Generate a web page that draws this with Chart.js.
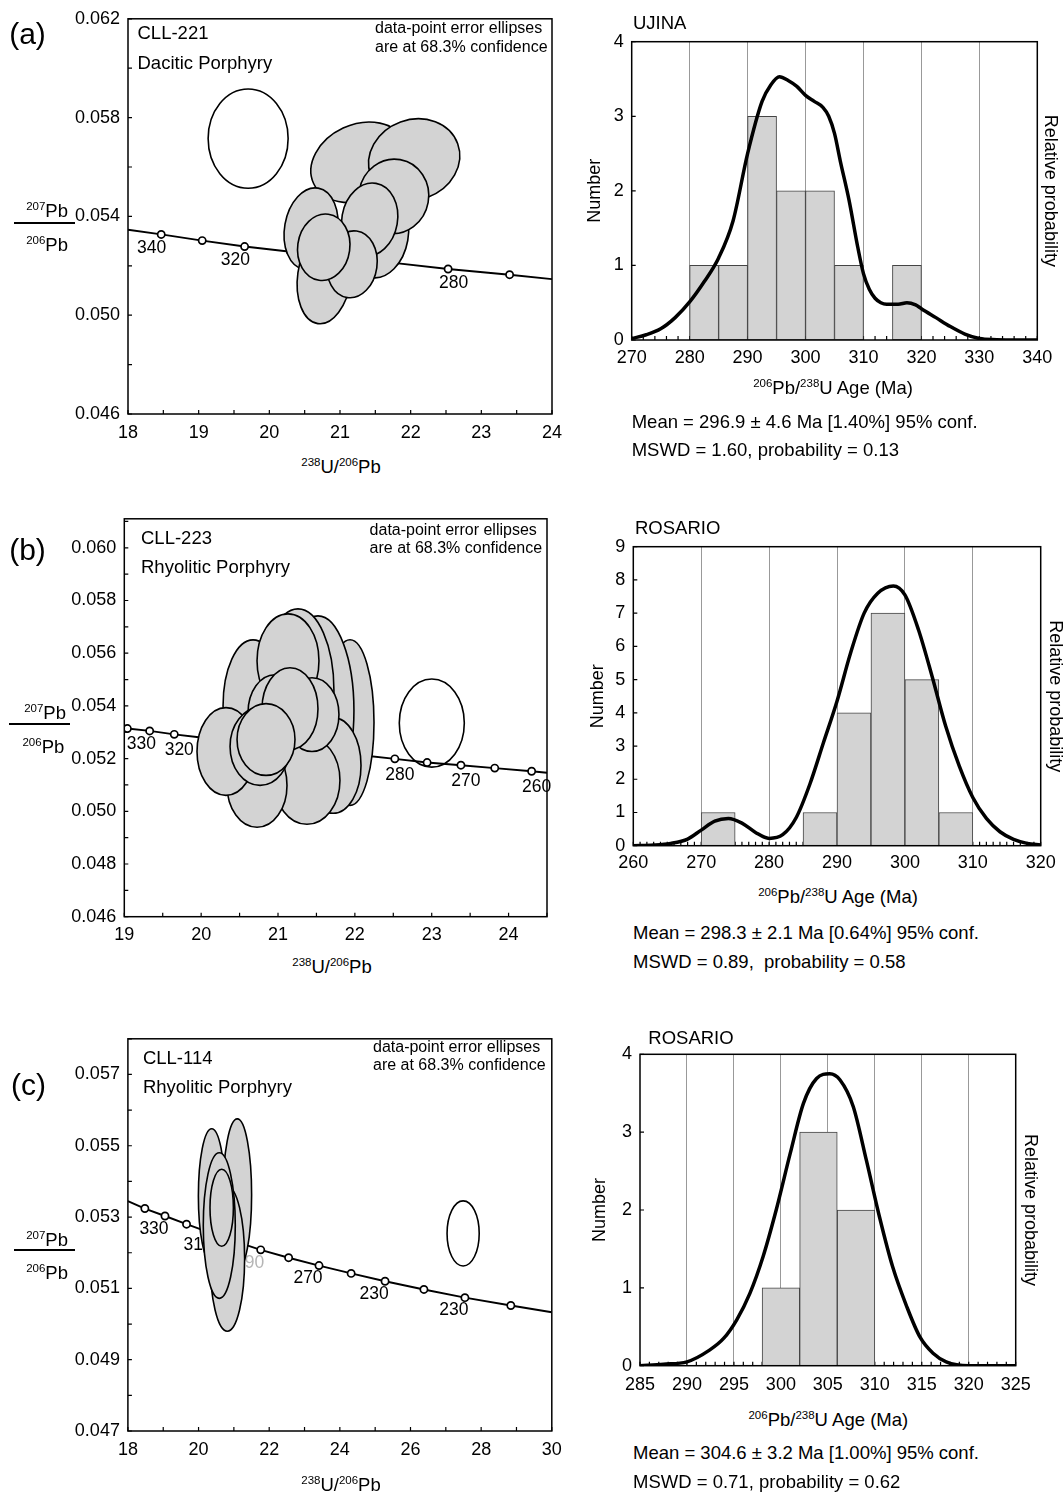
<!DOCTYPE html>
<html>
<head>
<meta charset="utf-8">
<script src="https://cdn.jsdelivr.net/npm/chart.js@4.4.0/dist/chart.umd.min.js"></script>
<style>
html, body { margin: 0; padding: 0; background: #fff; }
body { width: 1064px; height: 1493px; position: relative; overflow: hidden; font-family: "Liberation Sans", Arial, sans-serif; color: #000; }
canvas { position: absolute; }
.t { position: absolute; white-space: nowrap; line-height: 1; font-size: 18.5px; }
.c { transform: translate(-50%, -50%); }
.l { transform: translate(0, -50%); }
.r { transform: translate(-100%, -50%); }
.s { font-size: 11.5px; vertical-align: 7px; }
.n { font-size: 16px; }
.p { font-size: 30px; }
.bar { position: absolute; height: 0; border-top: 2px solid #000; }
</style>
</head>
<body>
<canvas id="concA" width="580" height="450" style="left:0;top:0"></canvas>
<canvas id="histA" width="484" height="380" style="left:580px;top:0"></canvas>
<canvas id="concB" width="580" height="450" style="left:0;top:500px"></canvas>
<canvas id="histB" width="490" height="385" style="left:580px;top:500px"></canvas>
<canvas id="concC" width="580" height="460" style="left:0;top:1020px"></canvas>
<canvas id="histC" width="484" height="380" style="left:580px;top:1020px"></canvas>

<!-- panel (a) -->
<div class="t c p" style="left:27.5px;top:34px">(a)</div>
<div class="t l" style="left:137.5px;top:33px">CLL-221</div>
<div class="t l" style="left:137.5px;top:63px">Dacitic Porphyry</div>
<div class="t l n" style="left:375px;top:28.3px">data-point error ellipses</div>
<div class="t l n" style="left:375px;top:46.7px">are at 68.3% confidence</div>
<div class="t r" style="left:68px;top:210.7px"><span class="s">207</span>Pb</div>
<div class="bar" style="left:14px;top:221.7px;width:61px"></div>
<div class="t r" style="left:68px;top:245px"><span class="s">206</span>Pb</div>
<div class="t c" style="left:341px;top:466.7px"><span class="s">238</span>U/<span class="s">206</span>Pb</div>
<div class="t l" style="left:633px;top:23px">UJINA</div>
<div class="t c" style="left:833px;top:388px"><span class="s">206</span>Pb/<span class="s">238</span>U Age (Ma)</div>
<div class="t l" style="left:631.7px;top:421.7px">Mean = 296.9 ± 4.6 Ma [1.40%] 95% conf.</div>
<div class="t l" style="left:631.7px;top:450px">MSWD = 1.60, probability = 0.13</div>

<!-- panel (b) -->
<div class="t c p" style="left:27.5px;top:550px">(b)</div>
<div class="t l" style="left:141px;top:538.3px">CLL-223</div>
<div class="t l" style="left:141px;top:566.7px">Rhyolitic Porphyry</div>
<div class="t l n" style="left:369.6px;top:530px">data-point error ellipses</div>
<div class="t l n" style="left:369.6px;top:548.3px">are at 68.3% confidence</div>
<div class="t r" style="left:66px;top:713.3px"><span class="s">207</span>Pb</div>
<div class="bar" style="left:9px;top:723px;width:61px"></div>
<div class="t r" style="left:64.3px;top:746.7px"><span class="s">206</span>Pb</div>
<div class="t c" style="left:332px;top:966.7px"><span class="s">238</span>U/<span class="s">206</span>Pb</div>
<div class="t l" style="left:635px;top:528.3px">ROSARIO</div>
<div class="t c" style="left:838px;top:896.7px"><span class="s">206</span>Pb/<span class="s">238</span>U Age (Ma)</div>
<div class="t l" style="left:633px;top:933.3px">Mean = 298.3 ± 2.1 Ma [0.64%] 95% conf.</div>
<div class="t l" style="left:633px;top:961.7px">MSWD = 0.89,&nbsp; probability = 0.58</div>

<!-- panel (c) -->
<div class="t c p" style="left:28.5px;top:1085px">(c)</div>
<div class="t l" style="left:142.9px;top:1058.3px">CLL-114</div>
<div class="t l" style="left:142.9px;top:1086.7px">Rhyolitic Porphyry</div>
<div class="t l n" style="left:373px;top:1047.3px">data-point error ellipses</div>
<div class="t l n" style="left:373px;top:1065px">are at 68.3% confidence</div>
<div class="t r" style="left:68px;top:1240px"><span class="s">207</span>Pb</div>
<div class="bar" style="left:14.3px;top:1249px;width:61px"></div>
<div class="t r" style="left:68px;top:1273.3px"><span class="s">206</span>Pb</div>
<div class="t c" style="left:341px;top:1485px"><span class="s">238</span>U/<span class="s">206</span>Pb</div>
<div class="t l" style="left:648.3px;top:1038.3px">ROSARIO</div>
<div class="t c" style="left:828.3px;top:1420px"><span class="s">206</span>Pb/<span class="s">238</span>U Age (Ma)</div>
<div class="t l" style="left:633px;top:1453.3px">Mean = 304.6 ± 3.2 Ma [1.00%] 95% conf.</div>
<div class="t l" style="left:633px;top:1481.7px">MSWD = 0.71, probability = 0.62</div>

<script>
// (a) CLL-221 concordia points (238U/206Pb, 207Pb/206Pb) and age marks (Ma)
var concA_x = [18.0, 18.47, 19.05, 19.65, 20.30, 20.99, 21.73, 22.53, 23.40, 24.0];
var concA_y = [0.05346, 0.05327, 0.05302, 0.05278, 0.05257, 0.05237, 0.05213, 0.05187, 0.05164, 0.05146];
var concA_age = [null, 340, 330, 320, 310, 300, 290, 280, 270, null];
var concA_lbl = ['', '340', '', '320', '', '', '', '280', '', ''];
// (a) error ellipses: centre, half axes, tilt (deg), filled
var ellA_x = [19.70, 21.27, 22.05, 21.55, 21.76, 20.59, 21.42, 20.78, 21.17, 20.77];
var ellA_y = [0.05715, 0.05619, 0.05630, 0.05323, 0.05481, 0.05350, 0.05387, 0.05157, 0.05206, 0.05275];
var ellA_sx = [0.566, 0.71, 0.655, 0.415, 0.495, 0.374, 0.394, 0.379, 0.354, 0.369];
var ellA_sy = [0.00201, 0.00153, 0.00162, 0.00173, 0.00151, 0.00167, 0.00149, 0.00193, 0.00136, 0.00135];
var ellA_rot = [0, -25, -20, 10, 10, 10, 10, 8, 8, 8];
var ellA_fill = [0, 1, 1, 1, 1, 1, 1, 1, 1, 1];

// (a) UJINA histogram
var histA_bin = [282.5, 287.5, 292.5, 297.5, 302.5, 307.5, 312.5, 317.5];
var histA_n = [1, 1, 3, 2, 2, 1, 0, 1];
var probA_x = [270, 272.5, 275, 277.5, 280, 282.5, 285, 287.5, 290, 292.5, 294, 295.5, 297, 298.5, 300, 301.5, 303, 304, 305, 306, 307.5, 309, 310, 311, 312, 313, 314, 316, 317.5, 319, 320, 322.5, 325, 327.5, 330, 333, 336, 340];
var probA_y = [0.02, 0.07, 0.15, 0.3, 0.51, 0.78, 1.1, 1.6, 2.5, 3.2, 3.42, 3.53, 3.48, 3.4, 3.28, 3.2, 3.12, 3.0, 2.77, 2.4, 1.88, 1.25, 0.89, 0.68, 0.56, 0.5, 0.48, 0.48, 0.5, 0.47, 0.42, 0.3, 0.18, 0.08, 0.02, 0.005, 0, 0];

// (b) CLL-223 concordia
var concB_x = [19.0, 19.04, 19.33, 19.65, 19.97, 20.99, 22.12, 22.52, 22.94, 23.38, 23.82, 24.30, 24.5];
var concB_y = [0.05317, 0.05314, 0.05305, 0.05292, 0.05281, 0.05248, 0.05212, 0.05199, 0.05185, 0.05175, 0.05164, 0.05152, 0.05146];
var concB_age = [null, 330, 325, 320, null, null, null, 280, 275, 270, 265, 260, null];
var concB_lbl = ['', '330', '', '320', '', '', '', '280', '', '270', '', '260', ''];
var ellB_x = [23.001, 21.937, 21.520, 21.260, 20.675, 21.716, 21.377, 20.727, 20.323, 21.130, 21.442, 20.961, 21.156, 20.766, 20.844];
var ellB_y = [0.053348, 0.053367, 0.053821, 0.054578, 0.054010, 0.051740, 0.051172, 0.050983, 0.052270, 0.055713, 0.053669, 0.053745, 0.053896, 0.052459, 0.052724];
var ellB_sx = [0.423, 0.312, 0.468, 0.468, 0.390, 0.364, 0.429, 0.390, 0.377, 0.403, 0.351, 0.351, 0.364, 0.390, 0.377];
var ellB_sy = [0.00167, 0.003141, 0.003595, 0.003103, 0.002497, 0.001816, 0.001665, 0.001589, 0.001665, 0.001778, 0.001400, 0.001438, 0.001551, 0.001476, 0.001362];
var ellB_rot = [0, 0, 0, 0, 0, 0, 0, 0, 0, 0, 0, 0, 0, 0, 0];
var ellB_fill = [0, 1, 1, 1, 1, 1, 1, 1, 1, 1, 1, 1, 1, 1, 1];

// (b) ROSARIO histogram
var histB_bin = [262.5, 267.5, 272.5, 277.5, 282.5, 287.5, 292.5, 297.5, 302.5, 307.5, 312.5, 317.5];
var histB_n = [0, 0, 1, 0, 0, 1, 4, 7, 5, 1, 0, 0];
var probB_x = [260, 263, 265.5, 268, 270, 272, 274, 276, 278, 280, 282, 284, 286, 288, 290, 292, 294, 296, 298.3, 300, 302, 304, 306, 308, 310, 312, 314, 316, 318, 320];
var probB_y = [0.0, 0.02, 0.07, 0.2, 0.47, 0.74, 0.82, 0.68, 0.4, 0.22, 0.33, 0.85, 1.85, 3.1, 4.35, 5.8, 7.0, 7.6, 7.82, 7.55, 6.5, 5.1, 3.6, 2.4, 1.45, 0.82, 0.42, 0.19, 0.07, 0.02];

// (c) CLL-114 concordia
var concC_x = [18.0, 18.48, 19.05, 19.66, 20.30, 20.99, 21.76, 22.55, 23.41, 24.32, 25.28, 26.38, 27.54, 28.84, 30.0];
var concC_y = [0.05345, 0.05324, 0.05303, 0.05280, 0.05257, 0.05233, 0.05208, 0.05186, 0.05164, 0.05142, 0.05120, 0.05097, 0.05074, 0.05052, 0.05033];
var concC_age = [null, 340, 330, 320, 310, 300, 290, 280, 270, 260, 250, 240, 230, 220, null];
var concC_lbl = ['', '', '330', '', '310', '', '290', '', '270', '', '230', '', '230', '', ''];
var ellC_x = [27.49, 20.372, 21.097, 20.814, 20.587, 20.655];
var ellC_y = [0.05254, 0.053593, 0.053629, 0.051828, 0.052762, 0.053260];
var ellC_sx = [0.455, 0.377, 0.405, 0.490, 0.453, 0.331];
var ellC_sy = [0.000914, 0.001884, 0.002125, 0.002030, 0.002042, 0.001080];
var ellC_rot = [0, 0, 0, 0, 0, 0];
var ellC_fill = [0, 1, 1, 1, 1, 1];

// (c) ROSARIO histogram
var histC_bin = [300, 304, 308];
var histC_n = [1, 3, 2];
var probC_x = [285, 287.5, 290, 292.4, 293.9, 295.3, 296.7, 298.1, 299.5, 301, 302.4, 303.8, 305.2, 306.3, 307.7, 309.1, 310.5, 311.9, 313.4, 314.8, 316.2, 317.6, 320, 325];
var probC_y = [0, 0.02, 0.05, 0.2, 0.35, 0.59, 0.93, 1.4, 2.0, 2.73, 3.37, 3.69, 3.75, 3.67, 3.33, 2.64, 1.91, 1.27, 0.76, 0.37, 0.16, 0.05, 0.0, 0.0];

Chart.defaults.font.family = '"Liberation Sans", Arial, sans-serif';
Chart.defaults.font.size = 18;
Chart.defaults.color = '#000';

function eachStep(min, max, step, fn) {
    var a = Math.ceil(min / step - 1e-6), b = Math.floor(max / step + 1e-6);
    for (var i = a; i <= b; i++) fn(i * step);
}
function onStep(v, base, step) {
    var k = (v - base) / step;
    return Math.abs(k - Math.round(k)) < 1e-6;
}

// inward tick marks and the box around the plot
function framePlugin(xStep, yStep, len) {
    return {
        id: 'frame',
        beforeDatasetsDraw: function(chart) {
            var ctx = chart.ctx, a = chart.chartArea, xs = chart.scales.x, ys = chart.scales.y;
            ctx.save();
            ctx.strokeStyle = '#000';
            ctx.lineWidth = 1.2;
            ctx.beginPath();
            eachStep(xs.min, xs.max, xStep, function(v) {
                var p = xs.getPixelForValue(v);
                ctx.moveTo(p, a.bottom);
                ctx.lineTo(p, a.bottom - len);
            });
            eachStep(ys.min, ys.max, yStep, function(v) {
                var p = ys.getPixelForValue(v);
                ctx.moveTo(a.left, p);
                ctx.lineTo(a.left + len, p);
            });
            ctx.stroke();
            ctx.restore();
        },
        afterDraw: function(chart) {
            var ctx = chart.ctx, a = chart.chartArea;
            ctx.save();
            ctx.strokeStyle = '#000';
            ctx.lineWidth = 1.5;
            ctx.strokeRect(a.left, a.top, a.right - a.left, a.bottom - a.top);
            ctx.restore();
        }
    };
}

// age labels on the concordia, then the error ellipses on top
function ellipsePlugin(cx, cy, lbl, dx, dy, lblColor, ex, ey, esx, esy, erot, efill) {
    return {
        id: 'ellipses',
        afterDatasetsDraw: function(chart) {
            var ctx = chart.ctx, a = chart.chartArea, xs = chart.scales.x, ys = chart.scales.y;
            ctx.save();
            ctx.font = '17.5px "Liberation Sans", Arial, sans-serif';
            ctx.textAlign = 'center';
            ctx.textBaseline = 'middle';
            lbl.forEach(function(t, i) {
                if (!t) return;
                ctx.fillStyle = lblColor[t] || '#000';
                ctx.fillText(t, xs.getPixelForValue(cx[i]) + (dx[t] !== undefined ? dx[t] : dx._), ys.getPixelForValue(cy[i]) + dy);
            });
            ctx.beginPath();
            ctx.rect(a.left, a.top, a.right - a.left, a.bottom - a.top);
            ctx.clip();
            ctx.strokeStyle = '#000';
            ctx.lineWidth = 1.6;
            ex.forEach(function(x, i) {
                var px = xs.getPixelForValue(x), py = ys.getPixelForValue(ey[i]);
                var rx = Math.abs(xs.getPixelForValue(x + esx[i]) - px);
                var ry = Math.abs(ys.getPixelForValue(ey[i] + esy[i]) - py);
                ctx.beginPath();
                ctx.ellipse(px, py, rx, ry, erot[i] * Math.PI / 180, 0, 2 * Math.PI);
                if (efill[i]) {
                    ctx.fillStyle = '#d3d3d3';
                    ctx.fill();
                }
                ctx.stroke();
            });
            ctx.restore();
        }
    };
}

function concordia(id, cx, cy, age, ax, plugins) {
    return new Chart(document.getElementById(id), {
        type: 'scatter',
        data: {
            datasets: [{
                data: cx.map(function(x, i) { return { x: x, y: cy[i] }; }),
                showLine: true,
                borderColor: '#000',
                borderWidth: 1.9,
                pointRadius: age.map(function(v) { return v == null ? 0 : 3.6; }),
                pointBackgroundColor: '#fff',
                pointBorderColor: '#000',
                pointBorderWidth: 1.7,
                tension: 0
            }]
        },
        options: {
            responsive: false,
            animation: false,
            devicePixelRatio: 1,
            layout: { padding: { left: 0, top: ax.top, right: ax.right, bottom: 0 } },
            plugins: { legend: { display: false }, tooltip: { enabled: false } },
            scales: {
                x: {
                    type: 'linear', min: ax.xmin, max: ax.xmax,
                    grid: { display: false, drawTicks: false },
                    border: { display: false },
                    ticks: {
                        stepSize: ax.xstep, padding: ax.xpad, maxRotation: 0, autoSkip: false,
                        callback: function(v) { return onStep(v, ax.xmin, ax.xlab) ? String(Math.round(v)) : ''; }
                    },
                    afterFit: function(s) { s.height = ax.xh; }
                },
                y: {
                    type: 'linear', min: ax.ymin, max: ax.ymax,
                    grid: { display: false, drawTicks: false },
                    border: { display: false },
                    ticks: {
                        stepSize: ax.ystep, padding: 8, autoSkip: false,
                        callback: function(v) { return onStep(v, ax.ymin, ax.ylab) ? v.toFixed(3) : ''; }
                    },
                    afterFit: function(s) { s.width = ax.yw; }
                }
            }
        },
        plugins: plugins
    });
}

function histogram(id, bins, counts, px, py, ax) {
    return new Chart(document.getElementById(id), {
        type: 'bar',
        data: {
            datasets: [{
                type: 'line',
                data: px.map(function(x, i) { return { x: x, y: py[i] }; }),
                yAxisID: 'yP',
                borderColor: '#000',
                borderWidth: 3.5,
                pointRadius: 0,
                cubicInterpolationMode: 'monotone',
                fill: false,
                order: 0
            }, {
                type: 'bar',
                data: bins.map(function(x, i) { return { x: x, y: counts[i] }; }),
                backgroundColor: '#d3d3d3',
                borderColor: '#444',
                borderWidth: 1,
                borderSkipped: false,
                barPercentage: 1,
                categoryPercentage: 1,
                order: 1
            }]
        },
        options: {
            responsive: false,
            animation: false,
            devicePixelRatio: 1,
            layout: { padding: { left: 0, top: ax.top, right: 0, bottom: 0 } },
            plugins: { legend: { display: false }, tooltip: { enabled: false } },
            scales: {
                x: {
                    type: 'linear', min: ax.xmin, max: ax.xmax, offset: false,
                    grid: {
                        offset: false, drawTicks: false, lineWidth: 1,
                        color: function(c) {
                            var v = c.tick ? c.tick.value : 0;
                            return (v <= ax.xmin + 1e-6 || v >= ax.xmax - 1e-6) ? 'rgba(0,0,0,0)' : '#999';
                        }
                    },
                    border: { display: false },
                    ticks: { stepSize: ax.xlab, padding: ax.xpad, maxRotation: 0, autoSkip: false },
                    afterFit: function(s) { s.height = ax.xh; }
                },
                y: {
                    type: 'linear', min: 0, max: ax.ymax,
                    grid: { display: false, drawTicks: false },
                    border: { display: false },
                    ticks: { stepSize: 1, padding: 8 },
                    title: { display: true, text: 'Number', padding: { top: ax.tl, bottom: 0 } },
                    afterFit: function(s) { s.width = ax.yw; }
                },
                yP: {
                    type: 'linear', position: 'right', min: 0, max: ax.ymax,
                    grid: { display: false, drawTicks: false },
                    border: { display: false },
                    ticks: { display: false },
                    title: { display: true, text: 'Relative probability', padding: { top: ax.tr, bottom: 0 } },
                    afterFit: function(s) { s.width = ax.rw; }
                }
            }
        },
        plugins: [framePlugin(ax.xminor, 1, 4)]
    });
}

concordia('concA', concA_x, concA_y, concA_age,
    { xmin: 18, xmax: 24, xstep: 0.5, xlab: 1, ymin: 0.046, ymax: 0.062, ystep: 0.002, ylab: 0.004, top: 14, right: 28, yw: 128, xh: 36, xpad: 8 },
    [framePlugin(0.5, 0.002, 4),
     ellipsePlugin(concA_x, concA_y, concA_lbl, { '340': -9.6, '320': -9.3, '280': 5.4, _: 0 }, 14, {},
         ellA_x, ellA_y, ellA_sx, ellA_sy, ellA_rot, ellA_fill)]);

concordia('concB', concB_x, concB_y, concB_age,
    { xmin: 19, xmax: 24.5, xstep: 0.5, xlab: 1, ymin: 0.046, ymax: 0.0611, ystep: 0.001, ylab: 0.002, top: 17.3, right: 33, yw: 124.3, xh: 33.3, xpad: 7.5 },
    [framePlugin(0.5, 0.001, 4),
     ellipsePlugin(concB_x, concB_y, concB_lbl, { '330': 14, _: 5 }, 16, {},
         ellB_x, ellB_y, ellB_sx, ellB_sy, ellB_rot, ellB_fill)]);

concordia('concC', concC_x, concC_y, concC_age,
    { xmin: 18, xmax: 30, xstep: 1, xlab: 2, ymin: 0.047, ymax: 0.058, ystep: 0.001, ylab: 0.002, top: 14, right: 28.2, yw: 127.9, xh: 49, xpad: 8.2 },
    [framePlugin(1, 0.001, 4),
     ellipsePlugin(concC_x, concC_y, concC_lbl, { _: -11 }, 13, { '290': '#b5b5b5' },
         ellC_x, ellC_y, ellC_sx, ellC_sy, ellC_rot, ellC_fill)]);

histogram('histA', histA_bin, histA_n, probA_x, probA_y,
    { xmin: 270, xmax: 340, xlab: 10, xminor: 2, ymax: 4, top: 41.7, yw: 51.7, rw: 26.7, xh: 40, xpad: 7, tl: 4.2, tr: 3.2 });

histogram('histB', histB_bin, histB_n, probB_x, probB_y,
    { xmin: 260, xmax: 320, xlab: 10, xminor: 1, ymax: 9, top: 46.7, yw: 53.3, rw: 29.3, xh: 39.3, xpad: 6.8, tl: 7.2, tr: 4.2 });

histogram('histC', histC_bin, histC_n, probC_x, probC_y,
    { xmin: 285, xmax: 325, xlab: 5, xminor: 1, ymax: 4, top: 34.3, yw: 60, rw: 48.3, xh: 34.3, xpad: 8.5, tl: 9.2, tr: 23.2 });
</script>
</body>
</html>
